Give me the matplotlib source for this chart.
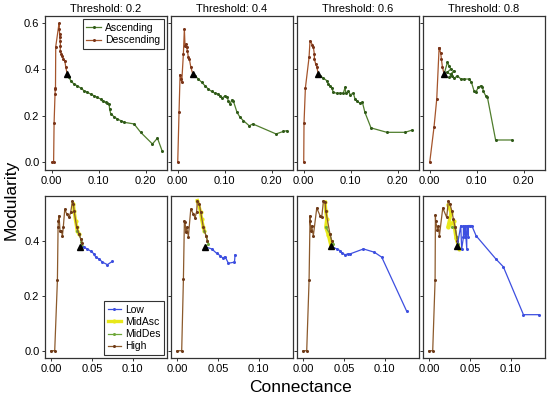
import matplotlib
matplotlib.use('Agg')
import matplotlib.pyplot as plt
from matplotlib.lines import Line2D

plt.rcParams['font.family'] = ['Liberation Sans', 'DejaVu Sans']

thresholds = ['0.2', '0.4', '0.6', '0.8']

# ---- top row: Ascending / Descending ----
desc02_x = [0.000, 0.004, 0.005, 0.007, 0.0075, 0.008, 0.0085, 0.0155, 0.016, 0.017, 0.017, 0.018, 0.0185, 0.018, 0.0205, 0.0226, 0.0247, 0.0277, 0.030, 0.033]
desc02_y = [0.0, 0.0, 0.168, 0.293, 0.315, 0.32, 0.497, 0.597, 0.573, 0.551, 0.537, 0.523, 0.501, 0.48, 0.466, 0.458, 0.444, 0.437, 0.408, 0.379]
asc02_x = [0.033, 0.0368, 0.0404, 0.0474, 0.0545, 0.0617, 0.0687, 0.0758, 0.083, 0.090, 0.097, 0.104, 0.108, 0.115, 0.118, 0.122, 0.123, 0.1255, 0.1326, 0.1396, 0.147, 0.154, 0.175, 0.189, 0.214, 0.2247, 0.235]
asc02_y = [0.379, 0.365, 0.351, 0.336, 0.329, 0.319, 0.308, 0.301, 0.293, 0.286, 0.279, 0.272, 0.262, 0.258, 0.254, 0.251, 0.229, 0.208, 0.196, 0.186, 0.179, 0.172, 0.165, 0.129, 0.079, 0.104, 0.047]

desc04_x = [0.000, 0.0028, 0.005, 0.0071, 0.0085, 0.012, 0.0141, 0.0155, 0.0177, 0.019, 0.0205, 0.0226, 0.0247, 0.0277, 0.032]
desc04_y = [0.0, 0.217, 0.377, 0.358, 0.344, 0.465, 0.573, 0.501, 0.508, 0.494, 0.48, 0.451, 0.444, 0.411, 0.379]
asc04_x = [0.032, 0.0368, 0.0439, 0.051, 0.058, 0.065, 0.072, 0.079, 0.0864, 0.090, 0.094, 0.1006, 0.1056, 0.1077, 0.111, 0.115, 0.118, 0.126, 0.1326, 0.1397, 0.152, 0.1596, 0.209, 0.2247, 0.232]
asc04_y = [0.379, 0.372, 0.358, 0.344, 0.329, 0.315, 0.305, 0.297, 0.2935, 0.286, 0.276, 0.286, 0.279, 0.262, 0.2505, 0.268, 0.265, 0.215, 0.193, 0.179, 0.157, 0.165, 0.122, 0.133, 0.136]

desc06_x = [0.000, 0.0006, 0.0035, 0.0113, 0.0134, 0.0184, 0.0205, 0.0226, 0.0226, 0.0255, 0.0277, 0.031]
desc06_y = [0.0, 0.168, 0.319, 0.451, 0.523, 0.505, 0.494, 0.465, 0.444, 0.422, 0.411, 0.379]
asc06_x = [0.031, 0.0347, 0.0418, 0.049, 0.0524, 0.056, 0.0596, 0.063, 0.070, 0.077, 0.084, 0.088, 0.0894, 0.095, 0.0985, 0.1056, 0.109, 0.113, 0.12, 0.1247, 0.130, 0.143, 0.1766, 0.2155, 0.231]
asc06_y = [0.379, 0.372, 0.362, 0.351, 0.336, 0.329, 0.319, 0.301, 0.297, 0.297, 0.297, 0.322, 0.298, 0.305, 0.291, 0.297, 0.272, 0.262, 0.254, 0.258, 0.215, 0.148, 0.129, 0.129, 0.139]

desc08_x = [0.000, 0.0092, 0.0149, 0.0199, 0.0206, 0.0234, 0.0248, 0.0269, 0.0305]
desc08_y = [0.0, 0.153, 0.272, 0.491, 0.491, 0.468, 0.444, 0.411, 0.379]
asc08_x = [0.0305, 0.0376, 0.041, 0.0447, 0.0376, 0.048, 0.041, 0.052, 0.0447, 0.052, 0.059, 0.066, 0.073, 0.0837, 0.0887, 0.094, 0.098, 0.103, 0.1085, 0.112, 0.114, 0.119, 0.1227, 0.140, 0.174]
asc08_y = [0.379, 0.43, 0.415, 0.401, 0.387, 0.372, 0.365, 0.394, 0.379, 0.362, 0.372, 0.358, 0.358, 0.358, 0.344, 0.308, 0.301, 0.322, 0.329, 0.325, 0.305, 0.286, 0.279, 0.096, 0.096]

# ---- bottom row: Low / MidAsc / MidDes / High ----
high02_x = [0.000, 0.0045, 0.0078, 0.0086, 0.009, 0.0098, 0.011, 0.0127, 0.0139, 0.015, 0.0168, 0.0192, 0.022, 0.024, 0.0262, 0.0274, 0.0282, 0.0314, 0.0343, 0.0364, 0.0384]
high02_y = [0.0, 0.0, 0.257, 0.449, 0.473, 0.491, 0.436, 0.436, 0.418, 0.449, 0.515, 0.497, 0.485, 0.503, 0.543, 0.533, 0.509, 0.449, 0.424, 0.406, 0.39]
midasc02_x = [0.0274, 0.0282, 0.030, 0.0314, 0.0322, 0.0343]
midasc02_y = [0.533, 0.509, 0.473, 0.449, 0.436, 0.424]
middes02_x = [0.0322, 0.0343, 0.0364, 0.0372, 0.0384, 0.0355]
middes02_y = [0.436, 0.424, 0.406, 0.394, 0.382, 0.378]
low02_x = [0.0355, 0.0404, 0.0445, 0.0486, 0.0527, 0.0547, 0.0588, 0.0629, 0.069, 0.0752]
low02_y = [0.378, 0.376, 0.370, 0.362, 0.352, 0.34, 0.334, 0.322, 0.313, 0.325]

high04_x = [0.000, 0.0057, 0.0078, 0.009, 0.0098, 0.011, 0.0118, 0.0139, 0.0168, 0.020, 0.022, 0.024, 0.0249, 0.0274, 0.029, 0.0322, 0.0355, 0.0372]
high04_y = [0.0, 0.0, 0.261, 0.473, 0.467, 0.430, 0.449, 0.415, 0.515, 0.497, 0.483, 0.506, 0.546, 0.533, 0.503, 0.449, 0.418, 0.40]
midasc04_x = [0.0249, 0.029, 0.030, 0.0322, 0.0335]
midasc04_y = [0.546, 0.503, 0.479, 0.449, 0.436]
middes04_x = [0.0335, 0.0355, 0.0372, 0.0384, 0.0343]
middes04_y = [0.436, 0.418, 0.40, 0.388, 0.378]
low04_x = [0.0343, 0.0425, 0.0486, 0.0527, 0.056, 0.0588, 0.0629, 0.0703, 0.0711]
low04_y = [0.378, 0.37, 0.354, 0.346, 0.337, 0.342, 0.318, 0.322, 0.349]

high06_x = [0.000, 0.0045, 0.0074, 0.0086, 0.0086, 0.0098, 0.0106, 0.0126, 0.0168, 0.0208, 0.0229, 0.025, 0.027, 0.0278, 0.033, 0.0351]
high06_y = [0.0, 0.0, 0.257, 0.491, 0.473, 0.436, 0.454, 0.418, 0.519, 0.491, 0.485, 0.546, 0.54, 0.509, 0.424, 0.40]
midasc06_x = [0.027, 0.0278, 0.029, 0.0278, 0.031, 0.0343]
midasc06_y = [0.54, 0.509, 0.479, 0.449, 0.42, 0.38]
middes06_x = [0.0278, 0.033, 0.0351, 0.0372, 0.0343]
middes06_y = [0.449, 0.424, 0.40, 0.388, 0.38]
low06_x = [0.0343, 0.0413, 0.0453, 0.0482, 0.0515, 0.0547, 0.0576, 0.074, 0.0874, 0.0964, 0.127]
low06_y = [0.38, 0.37, 0.364, 0.354, 0.349, 0.352, 0.352, 0.37, 0.358, 0.34, 0.143]

high08_x = [0.000, 0.0045, 0.0074, 0.0078, 0.008, 0.0102, 0.0114, 0.0127, 0.0168, 0.0216, 0.0237, 0.0257, 0.0278, 0.0298, 0.0319, 0.0347]
high08_y = [0.0, 0.0, 0.257, 0.494, 0.473, 0.439, 0.454, 0.418, 0.519, 0.485, 0.546, 0.533, 0.509, 0.479, 0.449, 0.40]
midasc08_x = [0.0237, 0.027, 0.023, 0.030, 0.033, 0.037]
midasc08_y = [0.53, 0.50, 0.449, 0.47, 0.41, 0.37]
middes08_x = [0.0278, 0.0319, 0.034, 0.036]
middes08_y = [0.449, 0.449, 0.412, 0.388]
low08_x = [0.0347, 0.0388, 0.0400, 0.0421, 0.0421, 0.0441, 0.0441, 0.0462, 0.0462, 0.0482, 0.0482, 0.0503, 0.0523, 0.0576, 0.082, 0.091, 0.1156, 0.1352]
low08_y = [0.382, 0.455, 0.37, 0.412, 0.455, 0.412, 0.455, 0.37, 0.455, 0.412, 0.455, 0.455, 0.455, 0.418, 0.333, 0.305, 0.131, 0.131]

top_data = [(asc02_x, asc02_y, desc02_x, desc02_y),
            (asc04_x, asc04_y, desc04_x, desc04_y),
            (asc06_x, asc06_y, desc06_x, desc06_y),
            (asc08_x, asc08_y, desc08_x, desc08_y)]
bot_data = [(low02_x, low02_y, midasc02_x, midasc02_y, middes02_x, middes02_y, high02_x, high02_y),
            (low04_x, low04_y, midasc04_x, midasc04_y, middes04_x, middes04_y, high04_x, high04_y),
            (low06_x, low06_y, midasc06_x, midasc06_y, middes06_x, middes06_y, high06_x, high06_y),
            (low08_x, low08_y, midasc08_x, midasc08_y, middes08_x, middes08_y, high08_x, high08_y)]

c_asc = '#4f7d2c'
c_desc = '#a5552c'
c_low = '#3d4fe0'
c_midasc = '#e8e81a'
c_middes = '#6fa83a'
c_high = '#8c5a2c'

fig = plt.figure(figsize=(5.5, 3.99), dpi=100)
lefts = [45, 171, 297, 423]
W, H = 550.0, 399.0


def style(ax, first):
    for s in ax.spines.values():
        s.set_color('#333333')
        s.set_linewidth(0.9)
    ax.tick_params(length=2.5, width=0.7, labelsize=8, pad=1.5, colors='#333333', labelcolor='black')
    if not first:
        ax.set_yticklabels([])


for i in range(4):
    ax = fig.add_axes([lefts[i] / W, 1 - 170 / H, 122 / W, 154 / H])
    ax_x, ax_y, de_x, de_y = top_data[i]
    ax.plot(de_x, de_y, color=c_desc, lw=0.9, marker='o', ms=2.2, mfc='#7a3418', mec='none')
    ax.plot(ax_x, ax_y, color=c_asc, lw=0.9, marker='o', ms=2.2, mfc='#2f5a18', mec='none')
    ax.plot([ax_x[0]], [ax_y[0]], marker='^', color='black', ms=4.3, ls='')
    ax.set_xlim(-0.0143, 0.245)
    ax.set_ylim(-0.033, 0.629)
    ax.set_xticks([0.0, 0.1, 0.2])
    ax.set_xticklabels(['0.00', '0.10', '0.20'])
    ax.set_yticks([0.0, 0.2, 0.4, 0.6])
    ax.set_yticklabels(['0.0', '0.2', '0.4', '0.6'])
    ax.set_title('Threshold: ' + thresholds[i], fontsize=8, pad=3)
    style(ax, i == 0)
    if i == 0:
        h = [Line2D([], [], color=c_asc, lw=0.9, marker='o', ms=2.2, mfc='#2f5a18', mec='none'),
             Line2D([], [], color=c_desc, lw=0.9, marker='o', ms=2.2, mfc='#7a3418', mec='none')]
        leg = ax.legend(h, ['Ascending', 'Descending'], loc='upper right', fontsize=7.5,
                        handlelength=1.4, handletextpad=0.4, borderpad=0.35, labelspacing=0.25,
                        fancybox=False, framealpha=1, borderaxespad=0.3)
        leg.get_frame().set_edgecolor('#333333')
        leg.get_frame().set_linewidth(0.8)

for i in range(4):
    ax = fig.add_axes([lefts[i] / W, 1 - 358 / H, 122 / W, 162 / H])
    lx, ly, ax_x, ax_y, dx, dy, hx, hy = bot_data[i]
    ax.plot(ax_x, ax_y, color=c_midasc, lw=2.4, marker='o', ms=3, mec='none')
    ax.plot(dx, dy, color=c_middes, lw=0.9, marker='o', ms=2.2, mec='none')
    ax.plot(hx, hy, color=c_high, lw=0.9, marker='o', ms=2.2, mfc='#6e3a18', mec='none')
    ax.plot(lx, ly, color=c_low, lw=0.9, marker='o', ms=2.2, mec='none')
    ax.plot([lx[0]], [ly[0]], marker='^', color='black', ms=3.8, ls='')
    ax.set_xlim(-0.0074, 0.142)
    ax.set_ylim(-0.0265, 0.5625)
    ax.set_xticks([0.0, 0.05, 0.1])
    ax.set_xticklabels(['0.00', '0.05', '0.10'])
    ax.set_yticks([0.0, 0.2, 0.4])
    ax.set_yticklabels(['0.0', '0.2', '0.4'])
    style(ax, i == 0)
    if i == 0:
        h = [Line2D([], [], color=c_low, lw=0.9, marker='o', ms=2.2, mec='none'),
             Line2D([], [], color=c_midasc, lw=2.4, marker='o', ms=3, mec='none'),
             Line2D([], [], color=c_middes, lw=0.9, marker='o', ms=2.2, mec='none'),
             Line2D([], [], color=c_high, lw=0.9, marker='o', ms=2.2, mfc='#6e3a18', mec='none')]
        leg = ax.legend(h, ['Low', 'MidAsc', 'MidDes', 'High'], loc='lower right', fontsize=7.5,
                        handlelength=1.2, handletextpad=0.4, borderpad=0.35, labelspacing=0.2,
                        fancybox=False, framealpha=1, borderaxespad=0.3)
        leg.get_frame().set_edgecolor('#333333')
        leg.get_frame().set_linewidth(0.8)

fig.text(0.02, 0.5, 'Modularity', rotation=90, ha='center', va='center', fontsize=12.5)
fig.text(300 / W, 1 - 388 / H, 'Connectance', ha='center', va='center', fontsize=12.5)

fig.savefig('out.png', dpi=100)
